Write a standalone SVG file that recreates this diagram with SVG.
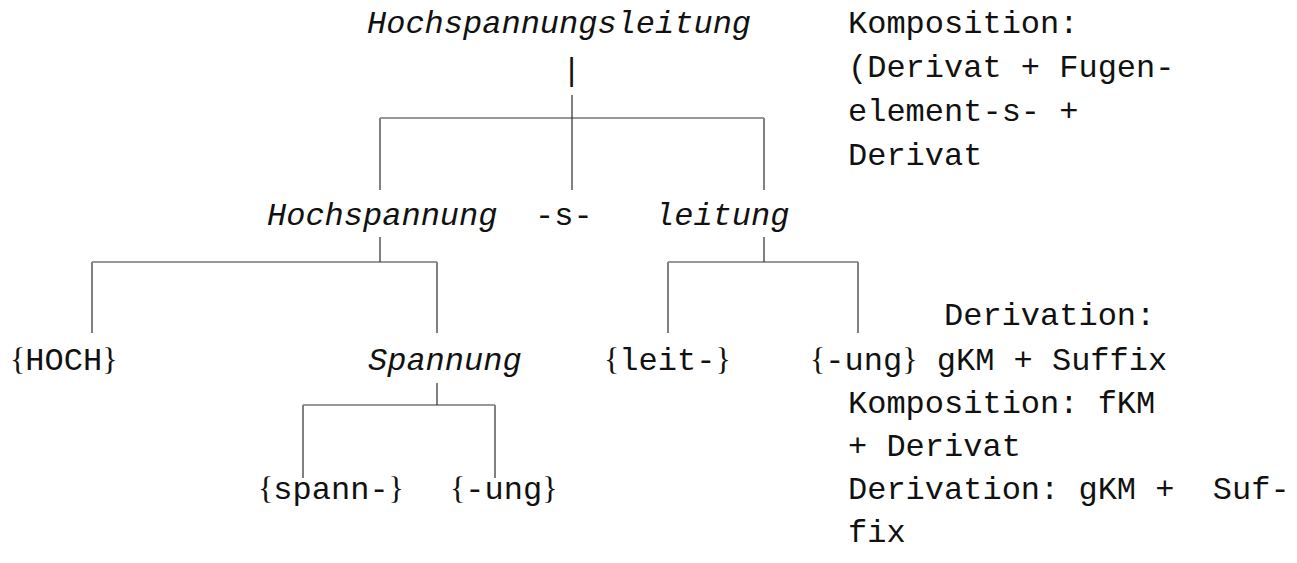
<svg xmlns="http://www.w3.org/2000/svg" width="1297" height="563" viewBox="0 0 1297 563">
  <style>
    text { font-family: "Liberation Mono", "Courier New", monospace; font-size: 32px; fill: #111; white-space: pre; }
    .it { font-style: italic; }
    .br { font-family: "Liberation Serif", "Times New Roman", serif; }
    .h { stroke: #333; stroke-width: 1.2; fill: none; }
    .v { stroke: #808080; stroke-width: 2; fill: none; }
  </style>
  <rect width="1297" height="563" fill="#fff"/>

  <!-- tree branches -->
  <g id="connectors">
    <!-- Hochspannungsleitung -->
    <line class="v" x1="572" y1="95" x2="572" y2="190"/>
    <line class="h" x1="380" y1="118" x2="764" y2="118"/>
    <line class="v" x1="380" y1="118" x2="380" y2="190"/>
    <line class="v" x1="764" y1="118" x2="764" y2="190"/>
    <!-- Hochspannung -->
    <line class="v" x1="380" y1="237" x2="380" y2="262"/>
    <line class="h" x1="92" y1="262" x2="437" y2="262"/>
    <line class="v" x1="92" y1="262" x2="92" y2="333"/>
    <line class="v" x1="437" y1="262" x2="437" y2="333"/>
    <!-- leitung -->
    <line class="v" x1="764" y1="237" x2="764" y2="262"/>
    <line class="h" x1="668" y1="262" x2="858" y2="262"/>
    <line class="v" x1="668" y1="262" x2="668" y2="333"/>
    <line class="v" x1="858" y1="262" x2="858" y2="333"/>
    <!-- Spannung -->
    <line class="v" x1="437" y1="383" x2="437" y2="405"/>
    <line class="h" x1="303" y1="405" x2="495" y2="405"/>
    <line class="v" x1="303" y1="405" x2="303" y2="478"/>
    <line class="v" x1="495" y1="405" x2="495" y2="478"/>
  </g>

  <g id="n-root">
    <text class="it" x="367" y="33">Hochspannungsleitung</text>
    <text x="562" y="80">|</text>
  </g>
  <g id="n-hochspannung"><text class="it" x="267" y="225">Hochspannung</text></g>
  <g id="n-fuge"><text x="535" y="225">-s-</text></g>
  <g id="n-leitung"><text class="it" x="655" y="225">leitung</text></g>
  <g id="n-hoch"><text x="10" y="370"><tspan class="br">{</tspan>HOCH<tspan class="br">}</tspan></text></g>
  <g id="n-spannung"><text class="it" x="368" y="370">Spannung</text></g>
  <g id="n-leit"><text x="604" y="370"><tspan class="br">{</tspan>leit-<tspan class="br">}</tspan></text></g>
  <g id="n-ung1"><text x="810" y="370"><tspan class="br">{</tspan>-ung<tspan class="br">}</tspan> gKM + Suffix</text></g>
  <g id="n-spann"><text x="258" y="499"><tspan class="br">{</tspan>spann-<tspan class="br">}</tspan></text></g>
  <g id="n-ung2"><text x="450" y="499"><tspan class="br">{</tspan>-ung<tspan class="br">}</tspan></text></g>

  <!-- annotations -->
  <g id="note-komposition-1">
    <text x="848" y="33">Komposition:</text>
    <text x="848" y="77">(Derivat + Fugen-</text>
    <text x="848" y="121">element-s- +</text>
    <text x="848" y="165">Derivat</text>
  </g>
  <g id="note-derivation-1"><text x="944" y="325">Derivation:</text></g>
  <g id="note-komposition-2">
    <text x="848" y="413">Komposition: fKM</text>
    <text x="848" y="456">+ Derivat</text>
  </g>
  <g id="note-derivation-2">
    <text x="848" y="499">Derivation: gKM +  Suf-</text>
    <text x="848" y="542">fix</text>
  </g>
</svg>
